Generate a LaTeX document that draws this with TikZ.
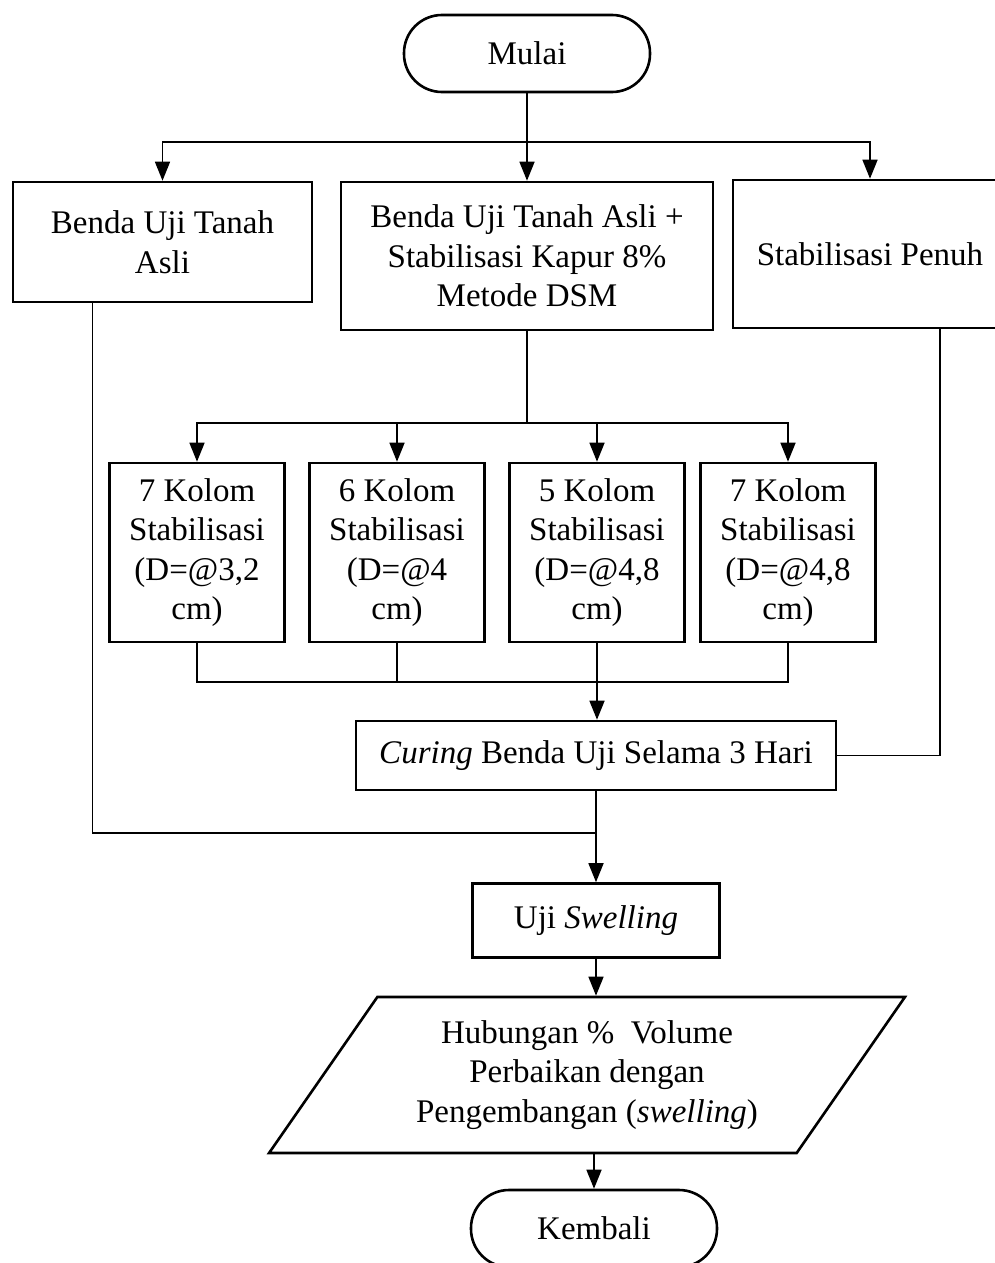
\documentclass[tikz,border=0pt]{standalone}
\usepackage{fontspec}
\setmainfont{Liberation Serif}
\usetikzlibrary{arrows.meta,shapes.geometric}

\begin{document}
\begin{tikzpicture}[x = 0.5pt, y = -0.5pt,
    every node/.style = {font = \fontsize{16.5}{19.75}\selectfont, align = center, inner sep = 0pt},
    box/.style = {draw, line width = 1.3pt, rectangle},
    term/.style = {draw, line width = 1.3pt, rounded corners = 19pt, minimum width = 123pt, minimum height = 38.5pt},
    io/.style = {draw, line width = 1.3pt, trapezium, trapezium left angle = 51, trapezium right angle = 129,
                 trapezium stretches = true, minimum width = 319pt, minimum height = 78pt},
    kolom/.style = {box, minimum width = 87.5pt, minimum height = 89.5pt},
    arr/.style = {-{Triangle[width = 7.5pt, length = 9.5pt]}, line width = 0.8pt},
    link/.style = {line width = 0.7pt}]
            \useasboundingbox (0, 0) rectangle (995, 1263);
            % start and first row
            \node [term] (mulai) at (527, 53.5) {Mulai};
            \node [box, minimum width = 149.5pt, minimum height = 60pt] (asli) at (162.5, 242) {Benda Uji Tanah\\Asli};
            \node [box, minimum width = 186pt, minimum height = 74pt] (dsm) at (527, 256) {Benda Uji Tanah Asli +\\Stabilisasi Kapur 8\%\\Metode DSM};
            \node [box, minimum width = 137pt, minimum height = 74pt] (penuh) at (870, 254) {Stabilisasi Penuh};
            % column variations
            \node [kolom] (k1) at (197, 552.5) {7 Kolom\\Stabilisasi\\(D=@3,2\\cm)};
            \node [kolom] (k2) at (397, 552.5) {6 Kolom\\Stabilisasi\\(D=@4\\cm)};
            \node [kolom] (k3) at (597, 552.5) {5 Kolom\\Stabilisasi\\(D=@4,8\\cm)};
            \node [kolom] (k4) at (788, 552.5) {7 Kolom\\Stabilisasi\\(D=@4,8\\cm)};
            % curing, test, result
            \node [box, minimum width = 240pt, minimum height = 34.5pt] (curing) at (596, 755.5) {\textit{Curing} Benda Uji Selama 3 Hari};
            \node [box, minimum width = 123.5pt, minimum height = 37pt] (uji) at (596, 920.5) {Uji \textit{Swelling}};
            \node [io] (hub) at (587, 1075) {Hubungan \%\ \ Volume\\Perbaikan dengan\\Pengembangan (\textit{swelling})};
            \node [term] (kembali) at (594, 1228.5) {Kembali};
            % connectors
            \coordinate (s1) at (527, 142);
            \coordinate (s2) at (527, 423);
            \coordinate (j1) at (597, 682);
            \coordinate (j2) at (596, 833);
            \draw [arr] (mulai.south) -- (dsm.north);
            \draw [arr] (s1) -| (asli.north);
            \draw [arr] (s1) -| (penuh.north);
            \draw [link] (dsm.south) -- (s2);
            \foreach \k in {k1, k2, k3, k4}
                \draw [arr] (s2) -| (\k.north);
            \draw [link] (k1.south) |- (j1);
            \draw [link] (k4.south) |- (j1);
            \draw [link] (k2.south) -- (k2.south |- j1);
            \draw [arr] (k3.south) -- (k3.south |- curing.north);
            \draw [link] ([xshift = 35pt] penuh.south) |- (curing.east);
            \draw [link] ([xshift = -35pt] asli.south) |- (j2);
            \draw [arr] (curing.south) -- (uji.north);
            \draw [arr] (uji.south) -- (uji.south |- hub.north);
            \draw [arr] (kembali.north |- hub.south) -- (kembali.north);
        \end{tikzpicture}
\end{document}
